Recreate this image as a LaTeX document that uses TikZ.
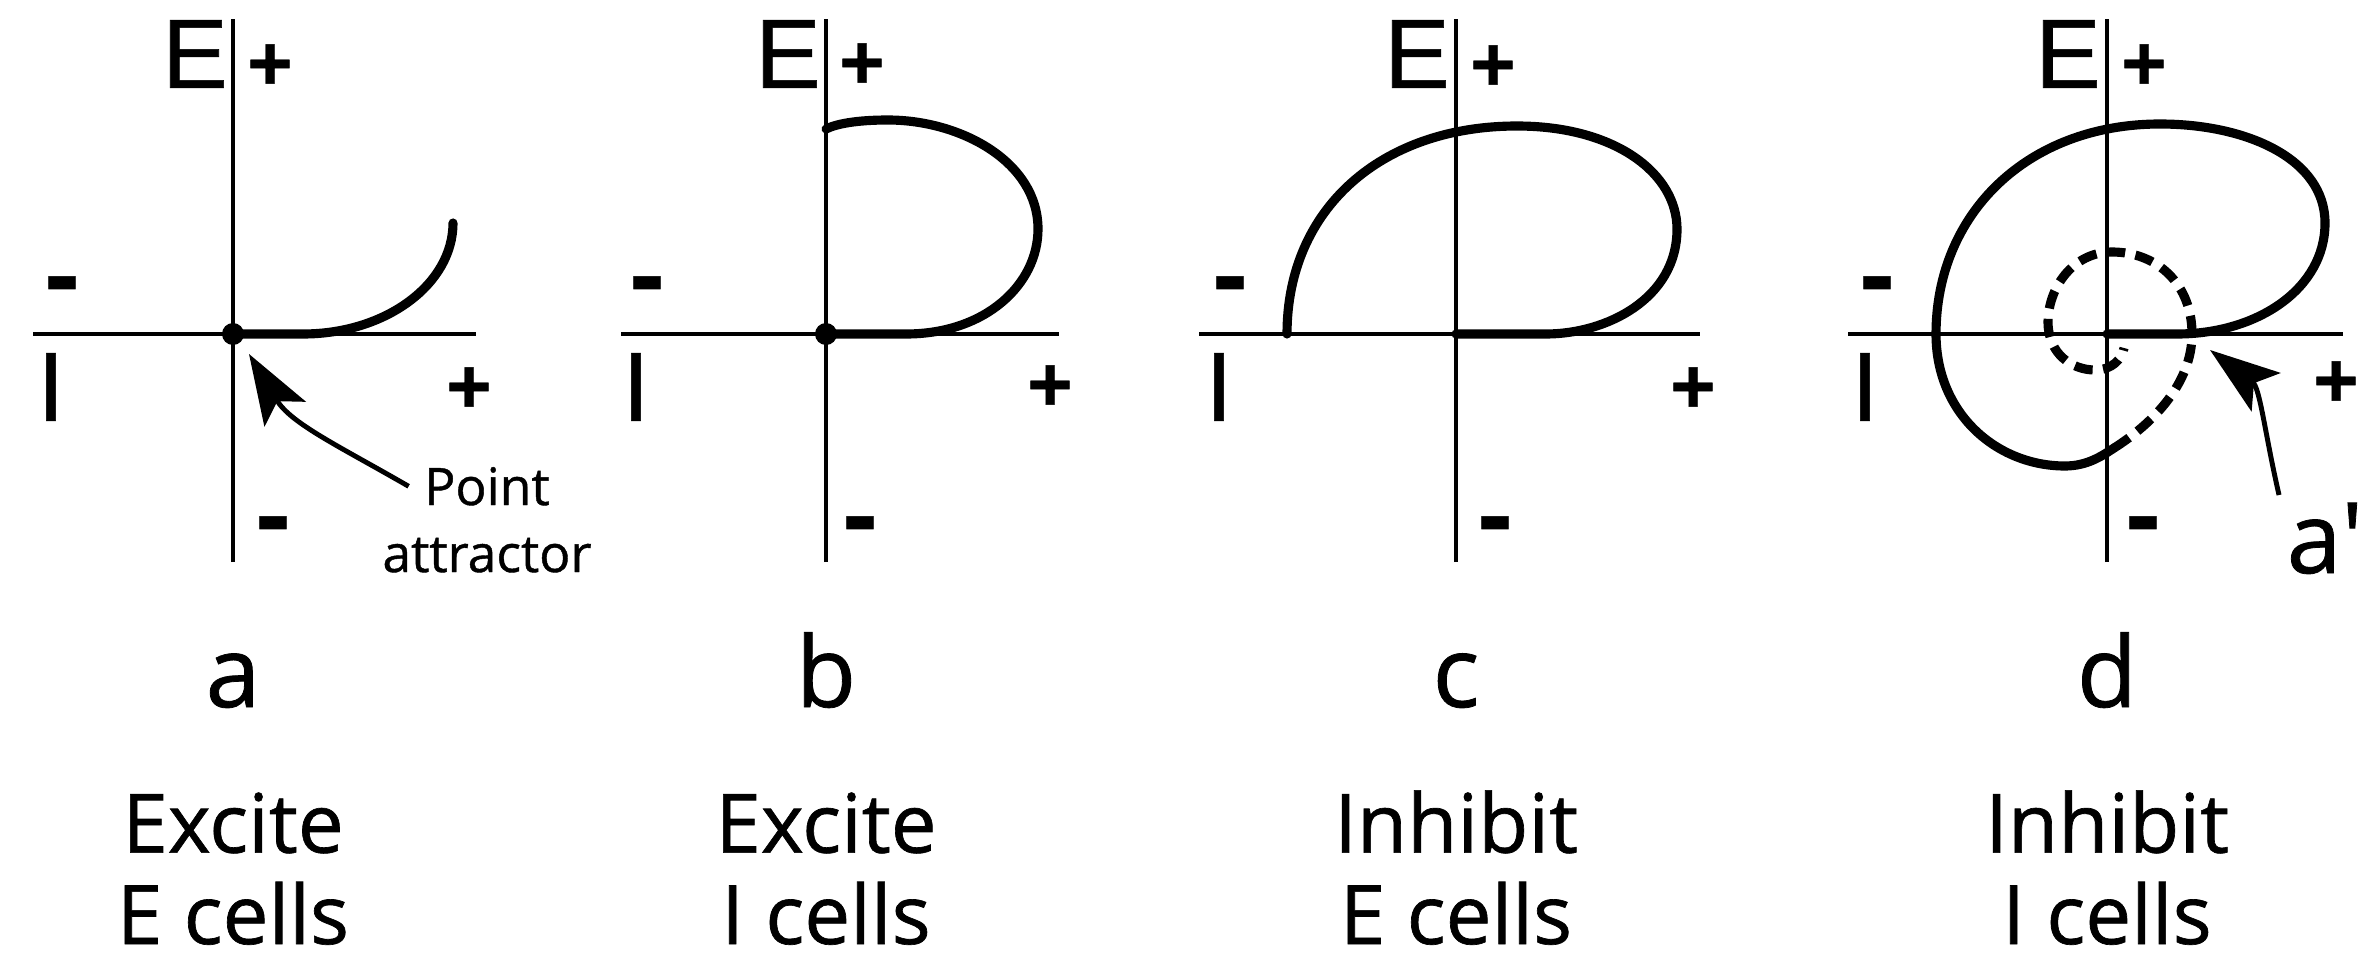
\documentclass[tikz,border=0pt]{standalone}
\usepackage{fontspec}
\setmainfont{Open Sans}[FakeBold=0.8]
\newfontfamily\axfont{Liberation Sans}[FakeBold=0.6]
\usetikzlibrary{arrows.meta,positioning}
\tikzset{
 axisline/.style={line width=1.15pt},
 traj/.style={line width=2.6pt,line cap=round},
 trajdash/.style={line width=2.6pt,dash pattern=on 5.2pt off 3pt},
 arrow/.style={-{Stealth[length=7mm,width=4.8mm,inset=1.5mm]},line width=1.4pt},
 axlab/.style={font=\axfont\fontsize{28}{30}\selectfont,inner sep=0pt},
 sign/.style={font=\axfont\bfseries\fontsize{22}{24}\selectfont,inner sep=0pt},
 neg/.style={font=\axfont\bfseries\fontsize{30}{32}\selectfont,inner sep=0pt,anchor=base},
 fp/.style={circle,fill,inner sep=0pt,minimum size=0.22cm},
 panel/.style={font=\fontsize{28}{30}\selectfont,anchor=base},
 caption/.style={font=\fontsize{23.3}{26}\selectfont,align=center,anchor=base,inner sep=0pt},
 note/.style={font=\fontsize{14.7}{19}\selectfont,anchor=base,inner xsep=0.15cm,inner ysep=0pt}
}
\begin{document}
\begin{tikzpicture}
\useasboundingbox (0,0) rectangle (23.76,9.66);
% a: excite E cells
\begin{scope}[shift={(2.33,6.32)}]
\draw[axisline] (-2.00,0) -- (2.43,0);
\draw[axisline] (0,-2.28) -- (0,3.15);
\node[axlab] (Ea) at (-0.38,2.80) {E};
\node[sign] (pEa) at (0.37,2.67) {+};
\node[neg] (mIa) at (-1.71,0.24) {-};
\node[axlab] (Ia) at (-1.82,-0.53) {I};
\node[sign] (pIa) at (2.36,-0.56) {+};
\node[neg] (mEa) at (0.40,-2.16) {-};
\draw[traj] (0,0) -- (0.7,0) .. controls (1.53,0) and (2.2,0.5) .. (2.2,1.11);
\node[fp] (fpA) at (0,0) {};
\node[note] (ptA) at (2.54,-1.71) {Point};
\node[note] (atA) at (2.54,-2.38) {attractor};
\draw[arrow] (ptA.west) to[out=150,in=-59] ([shift={(0.16,-0.2)}]fpA.center);
\node[panel] (la) at (0,-3.73) {a};
\node[caption] (ca) at (0,-6.10) {Excite\\E cells};
\end{scope}
% b: excite I cells
\begin{scope}[shift={(8.26,6.32)}]
\draw[axisline] (-2.05,0) -- (2.33,0);
\draw[axisline] (0,-2.28) -- (0,3.15);
\node[axlab] (Eb) at (-0.38,2.80) {E};
\node[sign] (pEb) at (0.36,2.68) {+};
\node[neg] (mIb) at (-1.79,0.24) {-};
\node[axlab] (Ib) at (-1.90,-0.53) {I};
\node[sign] (pIb) at (2.24,-0.54) {+};
\node[neg] (mEb) at (0.34,-2.16) {-};
\draw[traj] (0,0) -- (0.8,0) .. controls (1.6,0) and (2.12,0.5) .. (2.12,1.05)
  .. controls (2.12,1.72) and (1.35,2.14) .. (0.62,2.14)
  .. controls (0.3,2.14) and (0.1,2.1) .. (0,2.05);
\node[fp] (fpB) at (0,0) {};
\node[panel] (lb) at (0,-3.73) {b};
\node[caption] (cb) at (0,-6.10) {Excite\\I cells};
\end{scope}
% c: inhibit E cells
\begin{scope}[shift={(14.56,6.32)}]
\draw[axisline] (-2.57,0) -- (2.44,0);
\draw[axisline] (0,-2.28) -- (0,3.15);
\node[axlab] (Ec) at (-0.39,2.80) {E};
\node[sign] (pEc) at (0.37,2.66) {+};
\node[neg] (mIc) at (-2.26,0.24) {-};
\node[axlab] (Ic) at (-2.37,-0.53) {I};
\node[sign] (pIc) at (2.37,-0.56) {+};
\node[neg] (mEc) at (0.39,-2.16) {-};
\draw[traj] (-1.69,0) .. controls (-1.69,1.25) and (-0.75,2.08) .. (0.61,2.08)
  .. controls (1.6,2.08) and (2.21,1.6) .. (2.21,1.05)
  .. controls (2.21,0.35) and (1.5,0) .. (0.9,0) -- (0,0);
\node[panel] (lc) at (0,-3.73) {c};
\node[caption] (cc) at (0,-6.10) {Inhibit\\E cells};
\end{scope}
% d: inhibit I cells
\begin{scope}[shift={(21.07,6.32)}]
\draw[axisline] (-2.59,0) -- (2.36,0);
\draw[axisline] (0,-2.28) -- (0,3.15);
\node[axlab] (Ed) at (-0.39,2.80) {E};
\node[sign] (pEd) at (0.37,2.67) {+};
\node[neg] (mId) at (-2.30,0.24) {-};
\node[axlab] (Id) at (-2.42,-0.53) {I};
\node[sign] (pId) at (2.29,-0.50) {+};
\node[neg] (mEd) at (0.36,-2.16) {-};
\draw[traj] (0,0) -- (0.7,0) .. controls (1.5,0) and (2.18,0.45) .. (2.18,1.11)
  .. controls (2.18,1.75) and (1.4,2.10) .. (0.53,2.10)
  .. controls (-0.8,2.10) and (-1.71,1.2) .. (-1.71,0)
  .. controls (-1.71,-0.8) and (-1.1,-1.32) .. (-0.42,-1.32)
  .. controls (-0.2,-1.32) and (-0.05,-1.22) .. (0.07,-1.14);
\draw[trajdash] (0.07,-1.14) .. controls (0.45,-0.9) and (0.85,-0.5) .. (0.85,0)
  .. controls (0.85,0.5) and (0.5,0.82) .. (0.05,0.82)
  .. controls (-0.35,0.82) and (-0.59,0.45) .. (-0.59,0.12)
  .. controls (-0.59,-0.2) and (-0.35,-0.36) .. (-0.12,-0.36)
  .. controls (0.05,-0.36) and (0.15,-0.25) .. (0.17,-0.14);
\coordinate (tipD) at (1.03,-0.16);
\node[panel,inner sep=2pt] (apD) at (2.18,-2.39) {a\textquotesingle};
\draw[arrow] (apD.north west) to[out=103,in=-37] (tipD);
\node[panel] (ld) at (0,-3.73) {d};
\node[caption] (cd) at (0,-6.10) {Inhibit\\I cells};
\end{scope}
\end{tikzpicture}
\end{document}
